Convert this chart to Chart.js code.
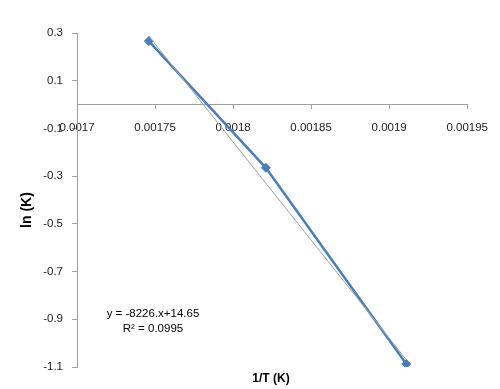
<!DOCTYPE html>
<html>
<head>
<meta charset="utf-8">
<script src="https://cdn.jsdelivr.net/npm/chart.js@4.4.0/dist/chart.umd.min.js"></script>
<style>
  body { margin: 0; background: #fff; }
  canvas { display: block; }
</style>
</head>
<body>
<canvas id="chart" width="500" height="389"></canvas>
<script>
// values
const invT = [0.001746, 0.001821, 0.001911];
const lnK = [0.266, -0.265, -1.087];
// trendline as printed on the chart
const slope = -8226;
const intercept = 14.65;
const xTicks = [0.0017, 0.00175, 0.0018, 0.00185, 0.0019, 0.00195];
const yTicks = [0.3, 0.1, -0.1, -0.3, -0.5, -0.7, -0.9, -1.1];

const points = invT.map((x, i) => ({ x: x, y: lnK[i] }));
const trendX = [invT[0], invT[invT.length - 1]];
const trend = trendX.map(x => ({ x: x, y: slope * x + intercept }));

const axisColor = '#a0a0a0';
const tickFont = { family: 'Liberation Sans', size: 11.5 };

// axis titles and equation, drawn like Excel places them
const textPlugin = {
    id: 'texts',
    afterDraw(chart) {
        const c = chart.ctx;
        c.save();
        c.fillStyle = '#000';
        c.textAlign = 'center';
        c.textBaseline = 'middle';
        c.font = 'bold 12px "Liberation Sans"';
        c.fillText('1/T (K)', 271, 379);
        c.save();
        c.translate(27, 210);
        c.rotate(-Math.PI / 2);
        c.font = 'bold 14px "Liberation Sans"';
        c.fillText('ln (K)', 0, 0);
        c.restore();
        c.font = '11.5px "Liberation Sans"';
        c.fillText('y = -8226.x+14.65', 153, 314);
        c.fillText('R\u00B2 = 0.0995', 153, 329);
        c.restore();
    }
};

new Chart(document.getElementById('chart'), {
    type: 'scatter',
    data: {
        datasets: [
            {
                label: 'Linear (ln K)',
                data: trend,
                showLine: true,
                borderColor: '#a0a0a0',
                borderWidth: 1,
                pointRadius: 0,
                fill: false
            },
            {
                label: 'ln K',
                data: points,
                showLine: true,
                borderColor: '#4a7ebb',
                borderWidth: 2.5,
                backgroundColor: '#4a7ebb',
                pointStyle: 'rectRot',
                pointRadius: 4.5,
                pointBorderWidth: 1,
                fill: false
            }
        ]
    },
    options: {
        responsive: false,
        animation: false,
        layout: { padding: { left: 0, right: 30, top: 33, bottom: 22 } },
        plugins: {
            legend: { display: false },
            tooltip: { enabled: false }
        },
        scales: {
            x: {
                type: 'linear',
                position: { y: 0 },
                min: 0.0017,
                max: 0.00195,
                afterBuildTicks: s => { s.ticks = xTicks.map(v => ({ value: v })); },
                grid: { drawOnChartArea: false, tickLength: 4, color: axisColor },
                border: { color: axisColor, width: 1 },
                ticks: { callback: v => String(v), font: tickFont, color: '#222', padding: 12, maxRotation: 0, autoSkip: false }
            },
            y: {
                type: 'linear',
                min: -1.1,
                max: 0.3,
                afterFit: s => { s.width = 77; },
                afterBuildTicks: s => { s.ticks = yTicks.map(v => ({ value: v })); },
                grid: { drawOnChartArea: false, tickLength: 5, color: axisColor },
                border: { color: axisColor, width: 1 },
                ticks: { callback: v => String(v), font: tickFont, color: '#222', padding: 9 }
            }
        }
    },
    plugins: [textPlugin]
});
</script>
</body>
</html>
